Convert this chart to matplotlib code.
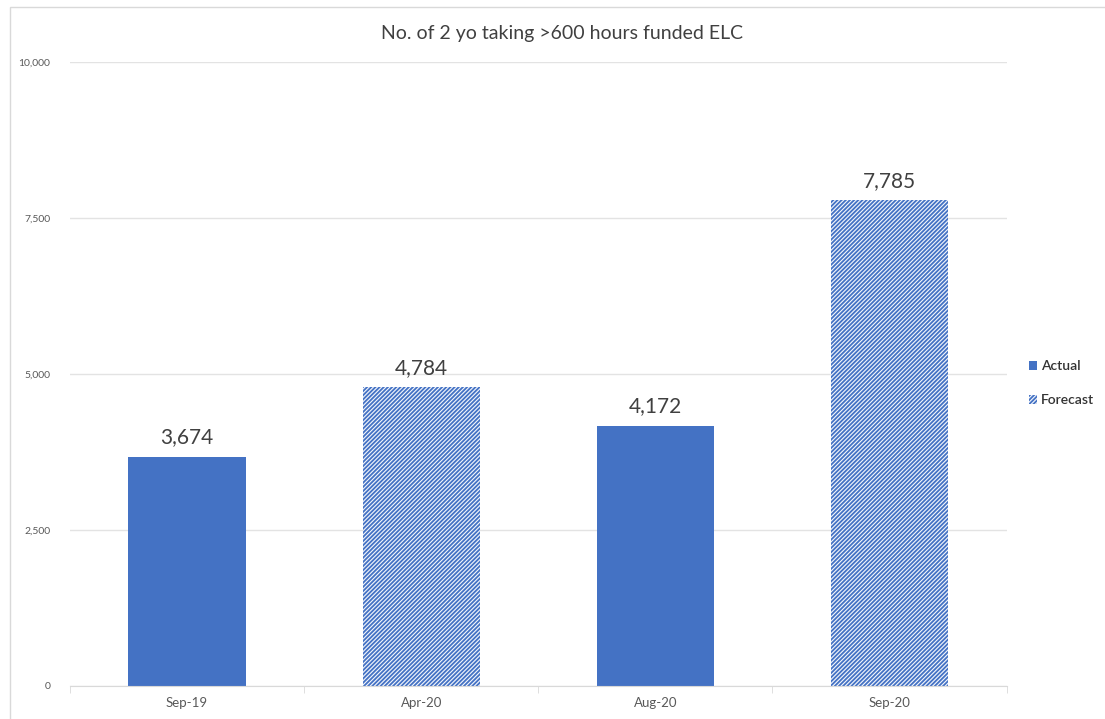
import matplotlib.pyplot as plt
from matplotlib.patches import Patch, Rectangle

months = ["Sep-19", "Apr-20", "Aug-20", "Sep-20"]
children = [3674, 4784, 4172, 7785]
is_forecast = [False, True, False, True]

blue = "#4472C4"
plt.rcParams["font.family"] = ["Lato", "DejaVu Sans"]
plt.rcParams["hatch.linewidth"] = 1.3

fig = plt.figure(figsize=(11.05, 7.19), dpi=100)
ax = fig.add_axes([0.0633, 0.0459, 0.8477, 0.8679])

# chart area border
fig.patches.append(Rectangle((0.009, -0.01), 1.2, 1.0, transform=fig.transFigure,
                             fill=False, edgecolor="#D9D9D9", linewidth=1))

xs = range(len(months))
for x, v, fc in zip(xs, children, is_forecast):
    if fc:
        ax.bar(x, v, width=0.5, color="#F4F7FC", edgecolor=blue,
               hatch="////////", linewidth=0, zorder=2)
    else:
        ax.bar(x, v, width=0.5, color=blue, linewidth=0, zorder=2)
    ax.text(x, v + 150, f"{v:,}", ha="center", va="bottom", fontsize=15,
            color="#404040")

ax.set_xlim(-0.5, len(months) - 0.5)
ax.set_ylim(0, 10000)
ax.set_yticks([0, 2500, 5000, 7500, 10000])
ax.set_yticklabels(["0", "2,500", "5,000", "7,500", "10,000"])
ax.yaxis.grid(True, color="#E3E3E3", linewidth=1, zorder=0)
ax.set_axisbelow(True)
ax.set_xticks(list(xs))
ax.set_xticklabels(months)
ax.tick_params(axis="y", length=0, labelsize=7.5, labelcolor="#595959", pad=14)
ax.tick_params(axis="x", length=0, labelsize=9.5, labelcolor="#595959", pad=8)
# category boundary ticks
ax.set_xticks([-0.5, 0.5, 1.5, 2.5, 3.5], minor=True)
ax.tick_params(axis="x", which="minor", length=5, color="#D9D9D9")
for s in ["top", "right", "left"]:
    ax.spines[s].set_visible(False)
ax.spines["bottom"].set_color("#D9D9D9")

fig.text(0.509, 0.954, "No. of 2 yo taking >600 hours funded ELC", fontsize=14,
         color="#404040", ha="center", va="center")

handles = [Patch(facecolor=blue, linewidth=0, label="Actual"),
           Patch(facecolor="#F4F7FC", edgecolor=blue, hatch="////////",
                 linewidth=0, label="Forecast")]
leg = ax.legend(handles=handles, loc="center left", bbox_to_anchor=(1.01, 0.485),
                frameon=False, fontsize=10, handlelength=0.6, handleheight=0.6,
                handletextpad=0.3, labelspacing=1.6, labelcolor="#333333")
for t in leg.get_texts():
    t.set_fontweight("semibold")

fig.savefig("out.png", dpi=100)
